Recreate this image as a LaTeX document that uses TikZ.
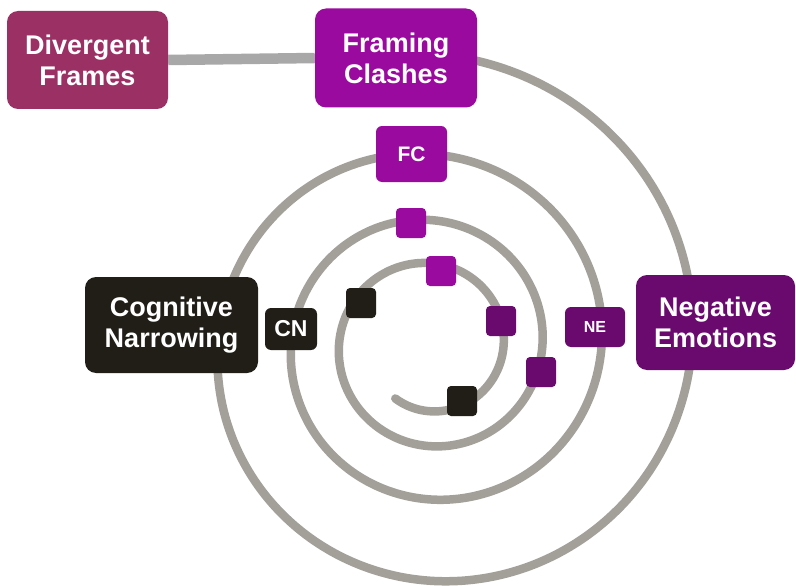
\documentclass[tikz,border=0pt]{standalone}
\usepackage{fontspec}
\setmainfont{Liberation Sans}
\definecolor{dfcol}{RGB}{155,48,100}
\definecolor{fccol}{RGB}{154,10,158}
\definecolor{necol}{RGB}{106,10,110}
\definecolor{cncol}{RGB}{32,30,22}
\definecolor{ringcol}{RGB}{163,160,154}
\definecolor{linkcol}{RGB}{168,168,168}
\begin{document}
\begin{tikzpicture}[x=1pt,y=-1pt,
  bigbox/.style={rectangle, rounded corners=11pt, text=white, font=\bfseries\fontsize{27}{31}\selectfont, align=center, inner sep=0pt},
  tagbox/.style={rectangle, rounded corners=6pt, text=white, font=\bfseries\fontsize{21}{24}\selectfont, inner sep=0pt},
  sqbox/.style={rectangle, rounded corners=4pt, minimum size=30pt, inner sep=0pt},
  ringline/.style={draw=ringcol, line width=8.5pt, line cap=round, line join=round},
  linkline/.style={draw=linkcol, line width=10.5pt}
]
\useasboundingbox (0,0) rectangle (796,586);
\fill[white] (0,0) rectangle (796,586);

% spiral (logarithmic, centre (430,345))
\draw[ringline] plot[domain=-95:1203, samples=500, smooth]
  ({430+262*exp(-0.0011706*\x)*cos(\x)}, {345+262*exp(-0.0011706*\x)*sin(\x)});

% nodes
\node[bigbox, fill=dfcol, minimum width=161pt, minimum height=98pt] (df) at (87.5,60) {Divergent\\Frames};
\node[bigbox, fill=fccol, minimum width=162pt, minimum height=99pt] (fcl) at (396,58) {Framing\\Clashes};
\node[bigbox, fill=cncol, minimum width=173pt, minimum height=96pt] (cnb) at (171.5,325) {Cognitive\\Narrowing};
\node[bigbox, fill=necol, minimum width=159pt, minimum height=95pt] (neb) at (715.5,322.5) {Negative\\Emotions};

\node[tagbox, fill=fccol, minimum width=71pt, minimum height=56pt] (fc) at (411.5,154) {FC};
\node[tagbox, fill=cncol, minimum width=52pt, minimum height=42pt, font=\bfseries\fontsize{23}{24}\selectfont] (cn) at (291,329) {CN};
\node[tagbox, fill=necol, minimum width=60pt, minimum height=40pt, font=\bfseries\fontsize{16}{18}\selectfont] (ne) at (595,327) {NE};

\node[sqbox, fill=fccol] (p1) at (411,223) {};
\node[sqbox, fill=fccol] (p2) at (441,271) {};
\node[sqbox, fill=necol] (d1) at (501,321) {};
\node[sqbox, fill=necol] (d2) at (541,372) {};
\node[sqbox, fill=cncol] (b1) at (361,303) {};
\node[sqbox, fill=cncol] (b2) at (462,401) {};

\draw[linkline] (df.east) -- (fcl.west);
\end{tikzpicture}
\end{document}
